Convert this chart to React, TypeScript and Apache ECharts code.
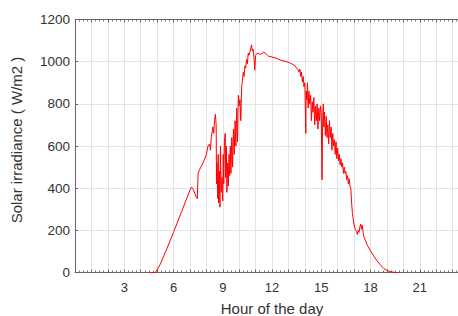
import React, { useEffect, useRef } from "react";
import * as echarts from "echarts";

// Hour of day (x) and solar irradiance in W/m2 (y)
const hours = [
  4.6, 4.9, 5.2, 5.5, 6.0, 6.5, 7.0, 7.1, 7.2, 7.3, 7.4, 7.45, 7.5, 7.6, 7.8, 8.0, 8.1, 8.2, 8.25, 8.3,
  8.4, 8.45, 8.5, 8.55, 8.6, 8.62, 8.65, 8.7, 8.72, 8.75, 8.8, 8.83, 8.86, 8.9, 8.95, 9.0, 9.03, 9.06, 9.1, 9.15,
  9.18, 9.22, 9.25, 9.3, 9.34, 9.38, 9.42, 9.46, 9.5, 9.55, 9.6, 9.65, 9.7, 9.75, 9.8, 9.85, 9.9, 9.95, 10.0, 10.05,
  10.1, 10.15, 10.2, 10.25, 10.3, 10.35, 10.4, 10.45, 10.5, 10.55, 10.6, 10.7, 10.75, 10.8, 10.85, 10.9, 10.95, 11.0, 11.1, 11.3,
  11.5, 11.6, 11.8, 12.0, 12.3, 12.6, 12.9, 13.2, 13.4, 13.5, 13.6, 13.65, 13.7, 13.75, 13.8, 13.85, 13.9, 13.95, 14.0, 14.03,
  14.06, 14.08, 14.12, 14.16, 14.2, 14.25, 14.3, 14.35, 14.4, 14.45, 14.5, 14.55, 14.6, 14.65, 14.7, 14.75, 14.8, 14.85, 14.9, 14.95,
  15.0, 15.02, 15.05, 15.08, 15.12, 15.16, 15.2, 15.25, 15.3, 15.35, 15.4, 15.45, 15.5, 15.55, 15.6, 15.65, 15.7, 15.75, 15.8, 15.85,
  15.9, 15.95, 16.0, 16.05, 16.1, 16.15, 16.2, 16.25, 16.3, 16.35, 16.4, 16.45, 16.5, 16.55, 16.6, 16.65, 16.7, 16.75, 16.8, 16.85,
  16.9, 16.95, 17.0, 17.05, 17.1, 17.15, 17.2, 17.25, 17.3, 17.35, 17.4, 17.45, 17.5, 17.55, 17.6, 17.7, 17.8, 18.0, 18.2, 18.4,
  18.6, 18.8, 19.0, 19.2, 19.5, 19.7,
];
const irradiance = [
  0, 0, 40, 95, 190, 290, 390, 405, 395, 375, 355, 350, 470, 490, 520, 560, 600, 610, 580, 640,
  690, 660, 720, 750, 700, 420, 520, 350, 560, 330, 480, 310, 600, 380, 450, 340, 560, 420, 620, 660,
  450, 600, 380, 520, 410, 560, 460, 600, 470, 640, 500, 680, 560, 720, 600, 780, 620, 840, 790, 820,
  720, 880, 910, 950, 930, 980, 970, 1010, 990, 1040, 1030, 1060, 1080, 1050, 1060, 1020, 960, 1030, 1040, 1035,
  1045, 1040, 1025, 1022, 1015, 1005, 1000, 990, 980, 970, 960, 950, 965, 930, 950, 905, 930, 880, 900, 780,
  660, 860, 820, 900, 780, 860, 800, 840, 720, 810, 760, 830, 700, 790, 720, 800, 680, 780, 720, 790,
  760, 600, 440, 700, 800, 690, 760, 650, 740, 640, 700, 610, 720, 640, 690, 580, 660, 600, 630, 560,
  620, 540, 590, 530, 560, 510, 540, 500, 520, 470, 500, 470, 480, 440, 460, 420, 445, 410, 400, 330,
  280, 250, 225, 210, 200, 195, 180, 200, 190, 215, 230, 205, 225, 190, 170, 150, 130, 103, 78, 55,
  36, 20, 10, 4, 0, 0,
];
const yTicks = [0, 200, 400, 600, 800, 1000, 1200];
const xLabelHours = [3, 6, 9, 12, 15, 18, 21];

const FONT = "'Liberation Sans', Arial, sans-serif";

export default function App() {
  const ref = useRef<HTMLDivElement>(null);
  useEffect(() => {
    if (!ref.current) return;
    const chart = echarts.init(ref.current, null, { renderer: "svg" });
    const data = hours.map((h, i) => [h, irradiance[i]]);
    const axisLine = { show: true, lineStyle: { color: "#666", width: 1 } };
    chart.setOption({
      animation: false,
      backgroundColor: "#fff",
      grid: {
        left: 75,
        top: 19.5,
        width: 394,
        height: 253,
        containLabel: false,
        outerBoundsMode: "none",
      },
      xAxis: [
        {
          type: "value",
          min: 0,
          max: 24,
          interval: 1,
          position: "bottom",
          axisLine,
          axisTick: { show: true, inside: true, length: 3, lineStyle: { color: "#666" } },
          minorTick: { show: true, splitNumber: 4, length: 2, lineStyle: { color: "#777" } },
          splitLine: { show: true, lineStyle: { color: "#e4e4e4", width: 1 } },
          axisLabel: {
            margin: 8,
            fontSize: 13,
            color: "#333",
            fontFamily: FONT,
            formatter: (v: number) => (xLabelHours.includes(v) ? String(v) : ""),
          },
          name: "Hour of the day",
          nameLocation: "middle",
          nameGap: 28,
          nameTextStyle: { fontSize: 15, color: "#333", fontFamily: FONT },
        },
        {
          type: "value",
          min: 0,
          max: 24,
          interval: 1,
          position: "top",
          axisLine,
          axisTick: { show: true, inside: true, length: 3, lineStyle: { color: "#666" } },
          minorTick: { show: true, splitNumber: 4, length: 2, lineStyle: { color: "#777" } },
          splitLine: { show: false },
          axisLabel: { show: false },
        },
      ],
      yAxis: {
        type: "value",
        min: 0,
        max: 1200,
        interval: 200,
        axisLine,
        axisTick: { show: true, inside: true, length: 3, lineStyle: { color: "#666" } },
        splitLine: { show: true, lineStyle: { color: "#e4e4e4", width: 1 } },
        axisLabel: {
          margin: 5,
          fontSize: 13.5,
          color: "#333",
          fontFamily: FONT,
          formatter: (v: number) => (yTicks.includes(v) ? String(v) : ""),
        },
        name: "Solar irradiance ( W/m2 )",
        nameLocation: "middle",
        nameGap: 51,
        nameTextStyle: { fontSize: 15, color: "#333", fontFamily: FONT, padding: [0, 0, 0, 12] },
      },
      series: [
        {
          type: "line",
          xAxisIndex: 0,
          data,
          showSymbol: false,
          symbol: "none",
          lineStyle: { color: "#ff0000", width: 1 },
          silent: true,
        },
      ],
    });
    return () => chart.dispose();
  }, []);
  return (
    <div
      ref={ref}
      style={{ position: "fixed", left: 0, top: 0, width: 458, height: 316, background: "#fff" }}
    />
  );
}
